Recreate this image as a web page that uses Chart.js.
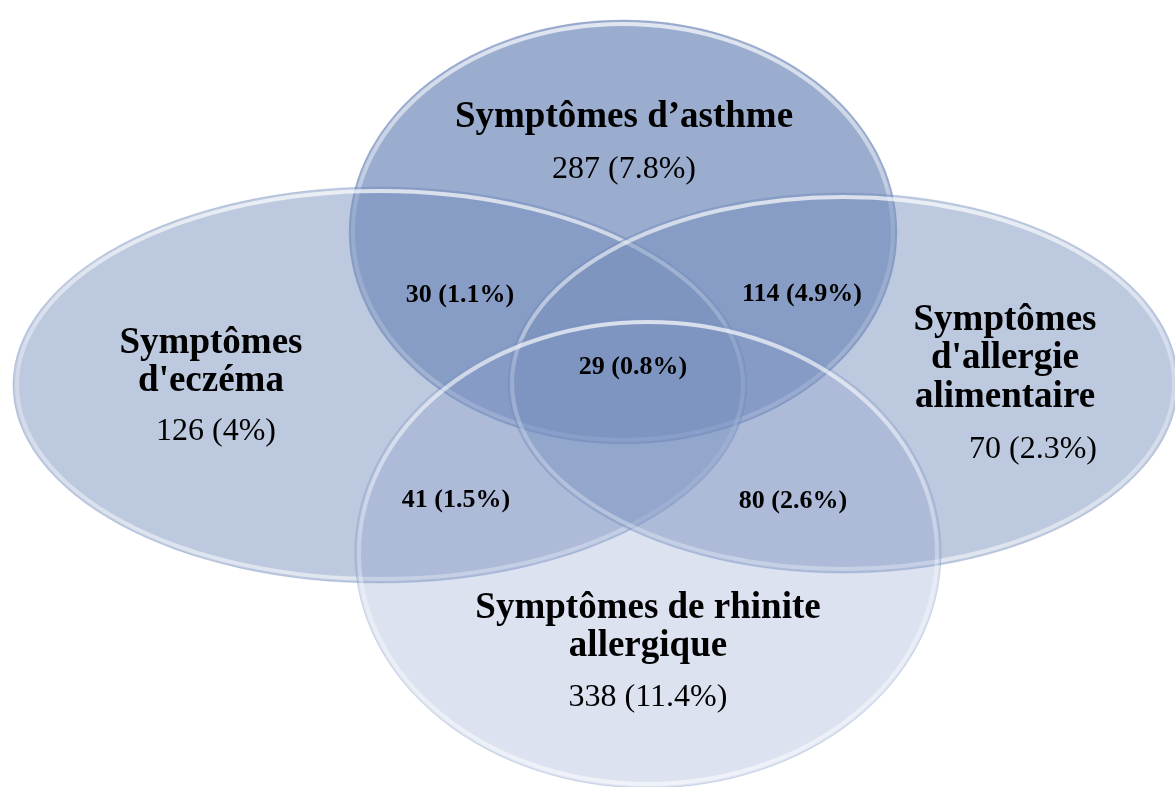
<!DOCTYPE html>
<html lang="fr">
<head>
<meta charset="UTF-8">
<title>Symptômes - diagramme de Venn</title>
<script src="https://cdn.jsdelivr.net/npm/chart.js@4.4.1/dist/chart.umd.min.js"></script>
<style>
    html, body { margin: 0; padding: 0; background: #fff; }
    #wrap { width: 1175px; height: 787px; }
</style>
</head>
<body>
<div id="wrap"><canvas id="venn"></canvas></div>
<script>
// groupes et effectifs
const setNames = [
    ['Symptômes d’asthme'],
    ['Symptômes', "d'eczéma"],
    ['Symptômes', "d'allergie", 'alimentaire'],
    ['Symptômes de rhinite', 'allergique']
];
const setCounts = ['287 (7.8%)', '126 (4%)', '70 (2.3%)', '338 (11.4%)'];
const overlapLabels = ['30 (1.1%)', '114 (4.9%)', '29 (0.8%)', '41 (1.5%)', '80 (2.6%)'];

// ellipses, dans le repère 0-1175 x 0-787
const ellCx = [623, 380, 843, 648];
const ellCy = [232, 385, 383, 553];
const ellRx = [274, 367, 335, 293];
const ellRy = [212, 198, 190, 235];
const ellColor = ['114,140,188', '114,140,188', '114,140,188', '130,150,200'];
const ellAlpha = [0.71, 0.47, 0.47, 0.28];

// ancrage des textes
const nameX = [624, 211, 1005, 648];
const nameY = [117, 343, 320, 608];
const countX = [624, 216, 1033, 648];
const countY = [170, 432, 450, 698];
const overlapX = [460, 802, 633, 456, 793];
const overlapY = [295, 294, 367, 500, 501];

const toPts = (xs, ys) => xs.map((v, i) => ({ x: v, y: ys[i] }));

const vennPlugin = {
    id: 'venn',
    beforeDatasetsDraw(chart) {
        const { ctx, scales: { x, y } } = chart;
        ellCx.forEach((cx, i) => {
            const px = x.getPixelForValue(cx);
            const py = y.getPixelForValue(ellCy[i]);
            const rx = Math.abs(x.getPixelForValue(cx + ellRx[i]) - px);
            const ry = Math.abs(y.getPixelForValue(ellCy[i] + ellRy[i]) - py);
            ctx.save();
            ctx.beginPath();
            ctx.ellipse(px, py, rx, ry, 0, 0, Math.PI * 2);
            ctx.fillStyle = 'rgba(' + ellColor[i] + ',' + ellAlpha[i] + ')';
            ctx.fill();
            ctx.lineWidth = 1;
            ctx.strokeStyle = 'rgba(114,140,188,0.3)';
            ctx.stroke();
            // reflet clair sur le bord
            const g = ctx.createLinearGradient(0, py - ry, 0, py + ry);
            g.addColorStop(0, 'rgba(255,255,255,0.7)');
            g.addColorStop(0.5, 'rgba(255,255,255,0.3)');
            g.addColorStop(1, 'rgba(255,255,255,0.55)');
            ctx.beginPath();
            ctx.ellipse(px, py, rx - 4, ry - 4, 0, 0, Math.PI * 2);
            ctx.lineWidth = 4;
            ctx.strokeStyle = g;
            ctx.stroke();
            ctx.restore();
        });
    },
    afterDatasetsDraw(chart) {
        const { ctx } = chart;
        ctx.save();
        ctx.fillStyle = '#000';
        ctx.textAlign = 'center';
        ctx.textBaseline = 'middle';

        const names = chart.getDatasetMeta(1).data;
        ctx.font = 'bold 37px "Liberation Serif"';
        names.forEach((pt, i) => {
            setNames[i].forEach((line, j) => ctx.fillText(line, pt.x, pt.y + j * 38.5));
        });

        const counts = chart.getDatasetMeta(2).data;
        ctx.font = '32px "Liberation Serif"';
        counts.forEach((pt, i) => ctx.fillText(setCounts[i], pt.x, pt.y));

        const overlaps = chart.getDatasetMeta(3).data;
        ctx.font = 'bold 26px "Liberation Serif"';
        overlaps.forEach((pt, i) => ctx.fillText(overlapLabels[i], pt.x, pt.y));
        ctx.restore();
    }
};

new Chart(document.getElementById('venn'), {
    type: 'scatter',
    data: {
        datasets: [
            { label: 'ellipses', data: toPts(ellCx, ellCy), pointRadius: 0 },
            { label: 'noms', data: toPts(nameX, nameY), pointRadius: 0 },
            { label: 'effectifs', data: toPts(countX, countY), pointRadius: 0 },
            { label: 'intersections', data: toPts(overlapX, overlapY), pointRadius: 0 }
        ]
    },
    options: {
        responsive: true,
        maintainAspectRatio: false,
        animation: false,
        layout: { padding: 0 },
        plugins: { legend: { display: false }, tooltip: { enabled: false } },
        scales: {
            x: { type: 'linear', min: 0, max: 1175, display: false },
            y: { type: 'linear', min: 0, max: 787, reverse: true, display: false }
        }
    },
    plugins: [vennPlugin]
});
</script>
</body>
</html>
